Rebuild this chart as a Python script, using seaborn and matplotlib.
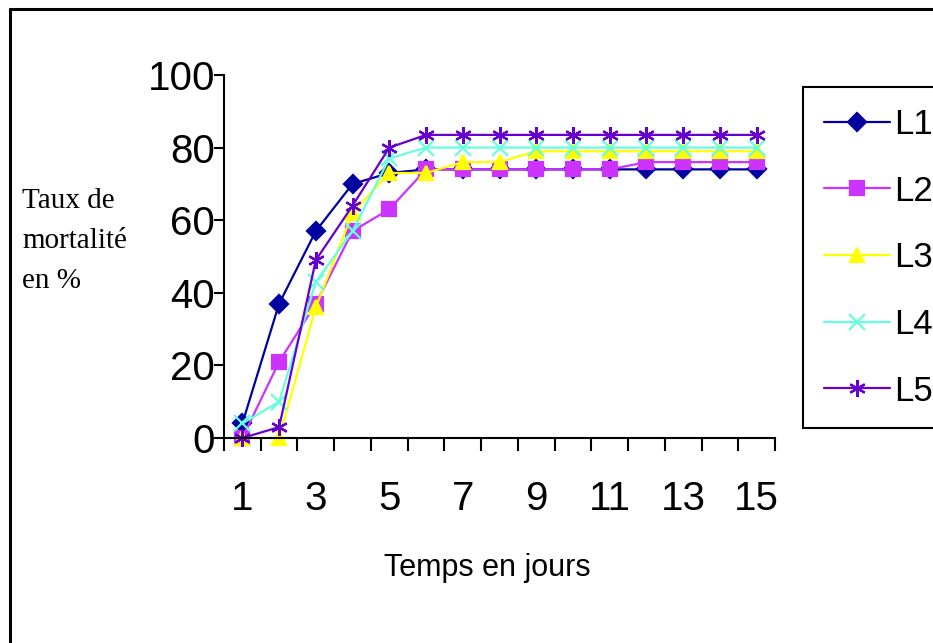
import numpy as np
import pandas as pd
import matplotlib
matplotlib.use("Agg")
import matplotlib.pyplot as plt
import seaborn as sns
from matplotlib.lines import Line2D

days = list(range(1, 16))
L1 = [4, 37, 57, 70, 73, 74, 74, 74, 74, 74, 74, 74, 74, 74, 74]
L2 = [0, 21, 37, 57, 63, 74, 74, 74, 74, 74, 74, 76, 76, 76, 76]
L3 = [0, 0, 36, 62, 73, 73, 76, 76, 79, 79, 79, 79, 79, 79, 79]
L4 = [4, 10, 43, 57, 77, 80, 80, 80, 80, 80, 80, 80, 80, 80, 80]
L5 = [0, 3, 49, 64, 80, 83.5, 83.5, 83.5, 83.5, 83.5, 83.5, 83.5, 83.5, 83.5, 83.5]
series_names = ["L1", "L2", "L3", "L4", "L5"]
yticks = [0, 20, 40, 60, 80, 100]
xtick_labels = [1, 3, 5, 7, 9, 11, 13, 15]

df = pd.concat([
    pd.DataFrame({"Jour": days, "Taux": vals, "Lot": name})
    for name, vals in zip(series_names, [L1, L2, L3, L4, L5])
], ignore_index=True)

sns.set_style("ticks")
plt.rcParams["font.family"] = ["Liberation Sans", "DejaVu Sans"]
for k in ["text.color", "axes.labelcolor", "xtick.color", "ytick.color", "axes.edgecolor"]:
    plt.rcParams[k] = "black"

palette = {"L1": "#0000A0", "L2": "#CC33FF", "L3": "#FFFF00",
           "L4": "#66FFDD", "L5": "#6600CC"}
markers = {"L1": "D", "L2": "s", "L3": "^", "L4": "x", "L5": (6, 2, 0)}
msizes = {"L1": 9, "L2": 9.5, "L3": 10.5, "L4": 11, "L5": 12}

fig = plt.figure(figsize=(9.33, 6.43), dpi=100)
ax = fig.add_axes([224 / 933, 1 - 438 / 643, (775 - 224) / 933, (438 - 75) / 643])

for name in series_names:
    sub = df[df["Lot"] == name]
    sns.lineplot(data=sub, x="Jour", y="Taux", color=palette[name],
                 marker=markers[name], markersize=msizes[name],
                 markeredgewidth=1.6, markeredgecolor=palette[name],
                 markerfacecolor=palette[name],
                 linewidth=1.6, label=name, ax=ax, clip_on=False)

ax.set_xlim(0.5, 15.5)
ax.set_ylim(0, 100)
ax.set_yticks(yticks)
ax.set_yticklabels([str(v) for v in yticks])
ax.set_xticks(np.arange(0.5, 16, 1))
ax.set_xticklabels([])
ax.set_xticks(xtick_labels, minor=True)
ax.set_xticklabels([str(v) for v in xtick_labels], minor=True)
ax.tick_params(axis="x", which="major", length=9, width=1.5, direction="out")
ax.tick_params(axis="x", which="minor", length=0, pad=30, labelsize=29)
ax.tick_params(axis="y", length=7.5, width=1.5, direction="out", pad=-1, labelsize=29)
for s in ["top", "right"]:
    ax.spines[s].set_visible(False)
for s in ["left", "bottom"]:
    ax.spines[s].set_linewidth(1.5)
    ax.spines[s].set_color("black")

ax.set_xlabel("Temps en jours", fontsize=22)
ax.xaxis.set_label_coords((487 - 224) / (775 - 224), (438 - 568) / 363)
ax.xaxis.label.set_va("center")
ax.set_ylabel("")

fig.text(22 / 933, 1 - 241 / 643, "Taux de\nmortalité\nen %",
         family=["Liberation Serif", "DejaVu Serif"], fontsize=21,
         ha="left", va="center", linespacing=1.68)

handles, labels = ax.get_legend_handles_labels()
leg = ax.legend(handles, labels, loc="upper left",
                bbox_to_anchor=(803 / 933, 1 - 87 / 643),
                bbox_transform=fig.transFigure, fontsize=25,
                frameon=True, fancybox=False, edgecolor="black",
                framealpha=1, borderpad=0.6, labelspacing=0.97,
                handlelength=1.9, handletextpad=0.12, borderaxespad=0)
leg.get_frame().set_linewidth(1.5)
leg.get_frame().set_edgecolor("black")

fig.add_artist(Line2D([10 / 933, 1.0], [1 - 9 / 643, 1 - 9 / 643],
                      transform=fig.transFigure, color="black", lw=2.2))
fig.add_artist(Line2D([10 / 933, 10 / 933], [1 - 9 / 643, 0.0],
                      transform=fig.transFigure, color="black", lw=2.2))

fig.savefig("out.png", dpi=100)
